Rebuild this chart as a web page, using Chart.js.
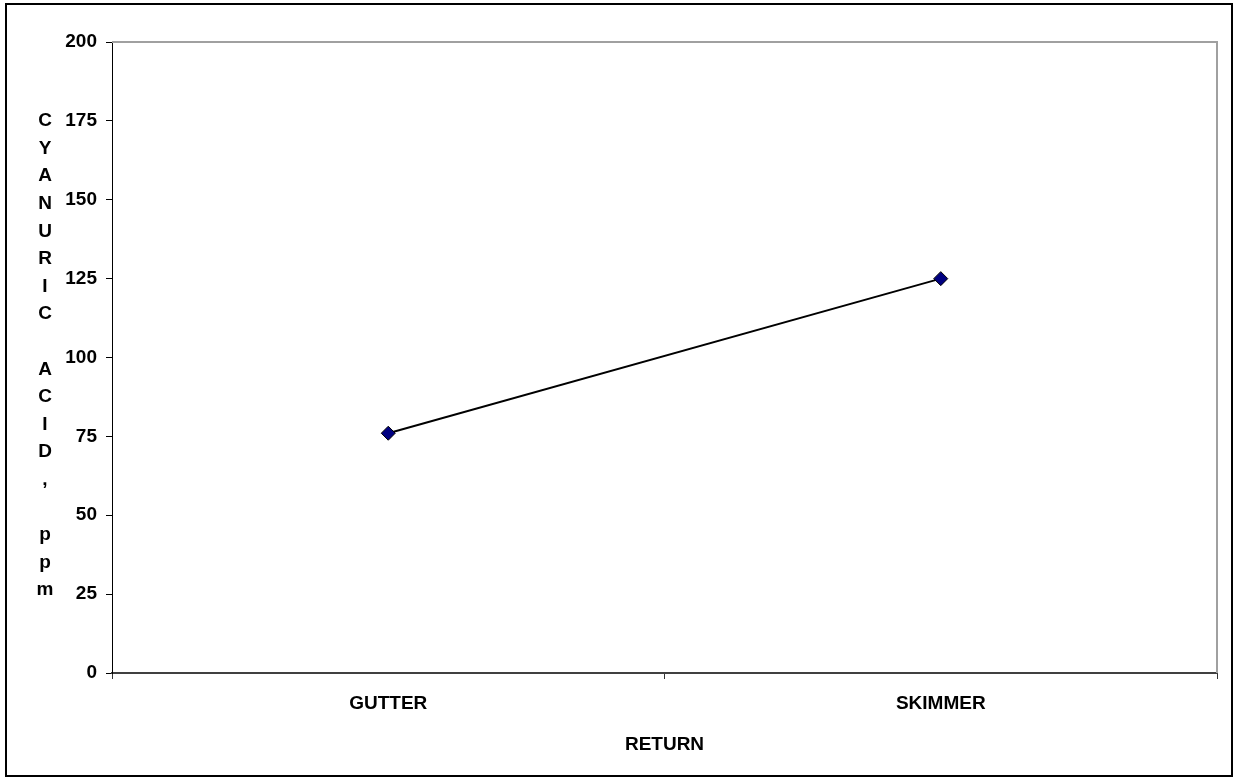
<!DOCTYPE html>
<html><head><meta charset="utf-8">
<script src="https://cdn.jsdelivr.net/npm/chart.js@4"></script>
<style>html,body{margin:0;padding:0;background:#fff}#wrap{width:1235px;height:780px;position:relative}</style>
</head><body><div id="wrap"><canvas id="c" width="1235" height="780"></canvas></div>
<script>
const categories = ['GUTTER', 'SKIMMER'];
const cyanuricAcid = [76, 125];
const yTicks = [0, 25, 50, 75, 100, 125, 150, 175, 200];
const yTitle = 'CYANURIC ACID, ppm';
const xTitle = 'RETURN';

const FONT = 'Liberation Sans, Arial, sans-serif';
const FSIZE = 19;

const framePlugin = {
  id: 'frame',
  afterDraw(chart) {
    const { ctx, chartArea: a } = chart;
    ctx.save();
    ctx.strokeStyle = '#a0a0a0';
    ctx.lineWidth = 2;
    ctx.beginPath();
    ctx.moveTo(a.left, a.top);
    ctx.lineTo(a.right, a.top);
    ctx.lineTo(a.right, a.bottom);
    ctx.stroke();
    ctx.strokeStyle = '#000';
    ctx.lineWidth = 2;
    ctx.strokeRect(6, 4, 1226, 772);
    // stacked y-axis title
    const chars = yTitle.split('');
    const lineH = 27.6;
    const y0 = a.top + 79;
    ctx.fillStyle = '#000';
    ctx.font = 'bold ' + FSIZE + 'px ' + FONT;
    ctx.textAlign = 'center';
    ctx.textBaseline = 'middle';
    chars.forEach((ch, i) => { if (ch !== ' ') ctx.fillText(ch, 45, y0 + i * lineH); });
    ctx.restore();
  }
};

new Chart(document.getElementById('c'), {
  type: 'line',
  data: {
    labels: categories,
    datasets: [{
      data: cyanuricAcid,
      borderColor: '#000',
      borderWidth: 2,
      pointStyle: 'rectRot',
      pointRadius: 7,
      pointBackgroundColor: '#000080',
      pointBorderColor: '#000',
      pointBorderWidth: 1,
      tension: 0
    }]
  },
  options: {
    responsive: false,
    animation: false,
    layout: { padding: { left: 0, top: 42, right: 18, bottom: 20 } },
    plugins: { legend: { display: false }, tooltip: { enabled: false } },
    scales: {
      x: {
        type: 'category',
        offset: true,
        grid: { drawOnChartArea: false, drawTicks: true, tickLength: 6, color: '#333', offset: true },
        border: { color: '#404040', width: 2 },
        ticks: { color: '#000', font: { family: FONT, size: FSIZE, weight: 'bold' }, padding: 13, maxRotation: 0 },
        title: { display: true, text: xTitle, color: '#000', font: { family: FONT, size: FSIZE, weight: 'bold' } },
        afterFit(s) { s.height = 87; }
      },
      y: {
        min: 0, max: 200,
        afterBuildTicks(s) { s.ticks = yTicks.map(v => ({ value: v })); },
        grid: { drawOnChartArea: false, drawTicks: true, tickLength: 6, color: '#000' },
        border: { color: '#000', width: 1 },
        ticks: { color: '#000', font: { family: FONT, size: FSIZE, weight: 'bold' }, padding: 9 },
        afterFit(s) { s.width = 112; }
      }
    }
  },
  plugins: [framePlugin]
});
</script></body></html>
